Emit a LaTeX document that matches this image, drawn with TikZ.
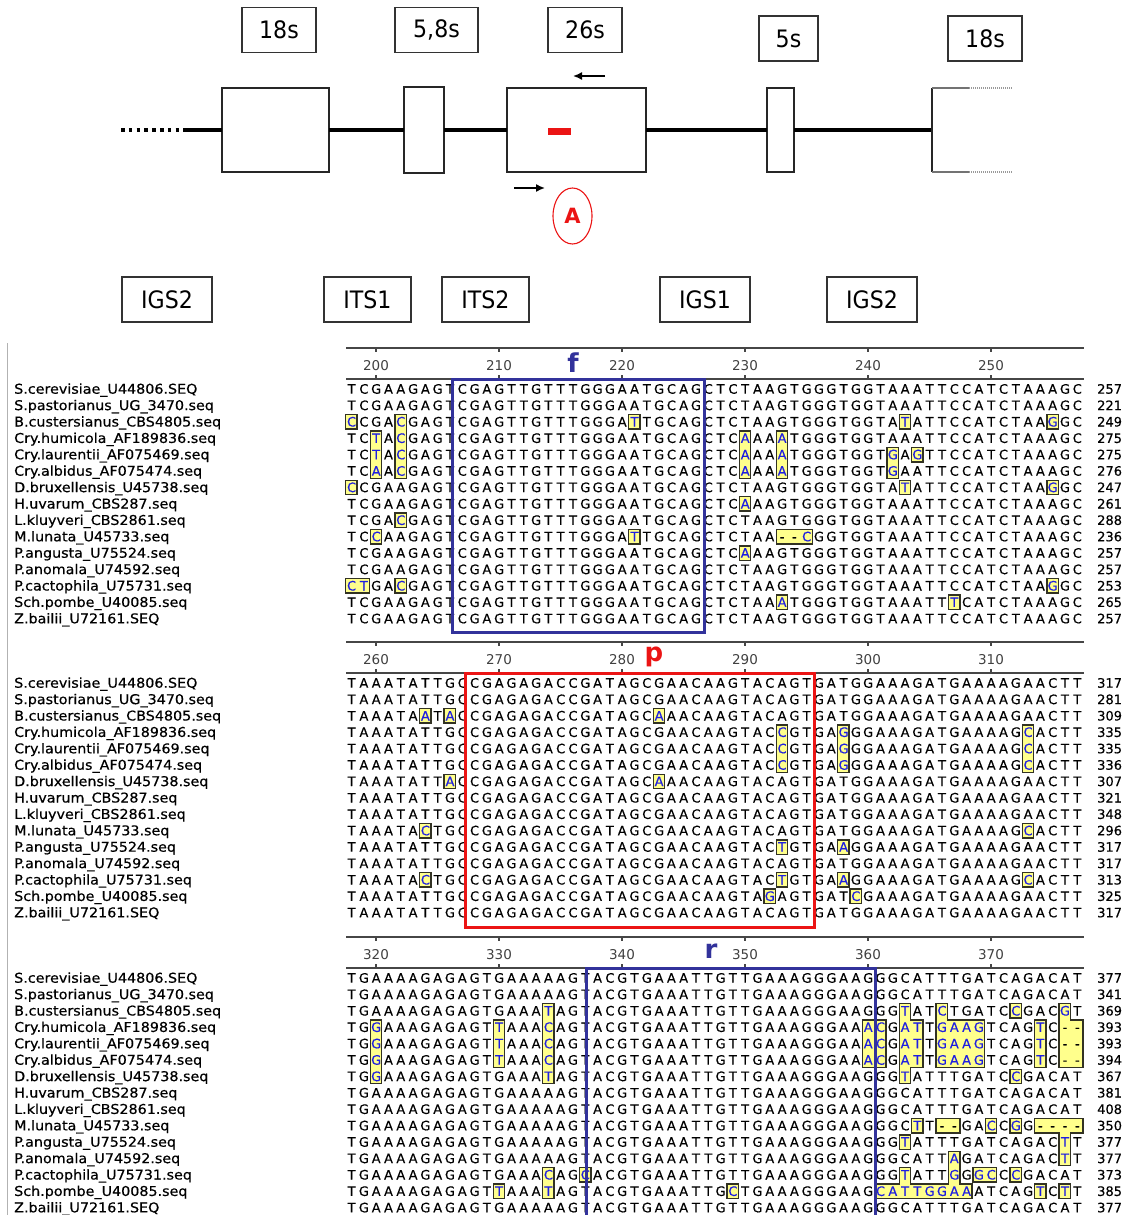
\documentclass[tikz,border=0pt]{standalone}
\usepackage{fontspec}
\setmainfont{DejaVu Sans}
\newfontfamily\namefont[FakeStretch=1.06,FakeBold=0.5]{DejaVu Sans}
\newfontfamily\seqfont[FakeBold=0.35]{DejaVu Sans}
\newfontfamily\tagfont[FakeStretch=0.92]{DejaVu Sans}
\usetikzlibrary{arrows.meta,positioning,shapes.geometric}
\definecolor{HlYellow}{RGB}{255,255,140}
\definecolor{HlEdge}{RGB}{50,50,35}
\definecolor{SeqBlue}{RGB}{30,30,225}
\definecolor{BoxBlue}{RGB}{50,50,155}
\definecolor{BoxRed}{RGB}{235,20,20}
\definecolor{RulerGray}{RGB}{70,70,70}
\tikzset{
  genebox/.style={draw=black!85,line width=1.5,fill=white,inner sep=0,outer sep=0},
  tagbox/.style={draw=black!80,line width=1.6,fill=white,inner sep=0,
    minimum height=45,font=\tagfont\fontsize{24}{24}\selectfont},
  backbone/.style={line width=4,draw=black},
  dotline/.style={line width=4,dash pattern=on 3.5pt off 4.3pt},
  stubline/.style={line width=1.4,draw=black!55},
  stubdot/.style={line width=1.4,draw=black!40,dash pattern=on 1pt off 1pt},
  primer/.style={-{Latex[length=9pt,width=8pt]},line width=1.6},
  hlcell/.style={draw=HlEdge,line width=1.4,fill=HlYellow},
  seqrow/.style={anchor=base west,inner sep=0,font=\seqfont\fontsize{13}{14}\selectfont},
  namelab/.style={anchor=base west,inner sep=0,font=\namefont\fontsize{13.5}{14}\selectfont},
  numlab/.style={anchor=base west,inner sep=0,font=\seqfont\fontsize{13}{14}\selectfont},
  rulerline/.style={draw=RulerGray,line width=1.4},
  rulerlab/.style={inner sep=0,text=black!75,font=\fontsize{13.5}{14}\selectfont},
  motif/.style={anchor=base,inner sep=0,font=\bfseries\fontsize{26}{26}\selectfont},
  motifbox/.style={line width=3},
}
\newdimen\colw \colw=12.3pt
\def\seqglyph#1{\ifnum`#1>96 \textcolor{SeqBlue}{\uppercase{#1}}\else#1\fi}
\def\seqscan#1{\ifx#1\relax\else\hbox to\colw{\hss\seqglyph{#1}\hss}\expandafter\seqscan\fi}
\def\seqtext#1{\expandafter\seqscan#1\relax}
\def\strains{S.cerevisiae\_U44806.SEQ,S.pastorianus\_UG\_3470.seq,B.custersianus\_CBS4805.seq,
  Cry.humicola\_AF189836.seq,Cry.laurentii\_AF075469.seq,Cry.albidus\_AF075474.seq,
  D.bruxellensis\_U45738.seq,H.uvarum\_CBS287.seq,L.kluyveri\_CBS2861.seq,M.lunata\_U45733.seq,
  P.angusta\_U75524.seq,P.anomala\_U74592.seq,P.cactophila\_U75731.seq,Sch.pombe\_U40085.seq,
  Z.bailii\_U72161.SEQ}
\newcommand\hlblock[3]{%
  \foreach \ca/\cb/\ra/\rb in {#3}
    \draw[hlcell] ({345.25+(\ca-#1)*12.3+0.45},{#2+(\ra-1)*16.4-7.2})
      rectangle ({345.25+(\cb-#1+1)*12.3-0.45},{#2+(\rb-1)*16.4+7.2});
  \foreach \ca/\cb/\ra/\rb in {#3}
    \fill[HlYellow] ({345.25+(\ca-#1)*12.3+1.3},{#2+(\ra-1)*16.4-6.35})
      rectangle ({345.25+(\cb-#1+1)*12.3-1.3},{#2+(\rb-1)*16.4+6.35});
}
\newcommand\ruler[2]{%
  \draw[rulerline] (346,#1-41) -- (1084,#1-41);
  \draw[rulerline] (346,#1-10) -- (1084,#1-10);
  \foreach \k in {0,...,5} {
    \pgfmathtruncatemacro\tv{#2+10*\k}
    \draw[rulerline] ({376+123*\k},#1-41) -- ++(0,4);
    \draw[rulerline] ({376+123*\k},#1-10) -- ++(0,-4);
    \node[rulerlab] (t\tv) at ({376+123*\k},#1-23) {\tv};
  }}
\newcommand\seqblock[3]{%
  \foreach \nm [count=\r from 0] in \strains
    \node[namelab] (n#2-\r) at (14,{#1+\r*16.4+4.7}) {\nm};
  \foreach \sq/\nb [count=\r from 0] in {#3} {
    \node[seqrow] (s#2-\r) at (345.25,{#1+\r*16.4+4.7}) {\seqtext\sq};
    \node[numlab] (c#2-\r) at (1097,{#1+\r*16.4+4.7}) {\nb};
  }}

\begin{document}
\begin{tikzpicture}[x=1pt,y=-1pt]
  \useasboundingbox (0,0) rectangle (1125,1215);

  % rDNA unit
  \node[tagbox,minimum width=74] (t18) at (279,30) {18s};
  \node[tagbox,minimum width=83] (t58) at (436.5,30) {5,8s};
  \node[tagbox,minimum width=74] (t26) at (585,30) {26s};
  \node[tagbox,minimum width=59] (t5) at (788.5,38.5) {5s};
  \node[tagbox,minimum width=74] (t18b) at (985,38.5) {18s};

  \node[genebox,minimum width=107,minimum height=84] (g18) at (275.5,130) {};
  \node[genebox,minimum width=40,minimum height=86,right=75pt of g18] (g58) {};
  \node[genebox,minimum width=139,minimum height=84,right=63pt of g58] (g26) {};
  \node[genebox,minimum width=27,minimum height=84,right=121pt of g26] (g5) {};
  \coordinate (lend) at (121,130);
  \coordinate (ldot) at (184,130);
  \coordinate (rt) at (932,88);
  \coordinate (rm) at (932,130);
  \coordinate (rb) at (932,172);
  \draw[dotline] (lend) -- (ldot);
  \draw[backbone] (ldot) -- (g18);
  \draw[backbone] (g18) -- (g58);
  \draw[backbone] (g58) -- (g26);
  \draw[backbone] (g26) -- (g5);
  \draw[backbone] (g5) -- (rm);
  \draw[line width=1.5,draw=black!85] (rt) -- (rb);
  \draw[stubline] (rt) -- ++(37,0) coordinate (rt1);
  \draw[stubdot] (rt1) -- ++(43,0);
  \draw[stubline] (rb) -- ++(37,0) coordinate (rb1);
  \draw[stubdot] (rb1) -- ++(43,0);

  \node[fill=BoxRed,minimum width=23,minimum height=7,inner sep=0] (probe) at (559.5,131.5) {};
  \coordinate (rv0) at (605,76);
  \coordinate (rv1) at (573,76);
  \coordinate (fw0) at (514,188);
  \coordinate (fw1) at (545,188);
  \draw[primer] (rv0) -- (rv1);
  \draw[primer] (fw0) -- (fw1);
  \node[ellipse,draw=BoxRed,line width=1.1,minimum width=39,minimum height=56,inner sep=0,
    text=BoxRed,font=\bfseries\fontsize{21}{21}\selectfont] (amp) at (572.5,216) {A};

  \node[tagbox,minimum width=90] (igs2a) at (167,299.5) {IGS2};
  \node[tagbox,minimum width=87] (its1) at (367.5,299.5) {ITS1};
  \node[tagbox,minimum width=87] (its2) at (485.5,299.5) {ITS2};
  \node[tagbox,minimum width=90] (igs1) at (705,299.5) {IGS1};
  \node[tagbox,minimum width=90] (igs2b) at (872,299.5) {IGS2};

  \draw[black!30,line width=1] (7,343) -- (7,1215);

  % alignment 198-257
  \hlblock{198}{389}{198/198/3/3,202/202/3/6,200/200/4/6,221/221/3/3,243/243/3/3,255/255/3/3,
    230/230/4/6,233/233/4/6,242/242/5/6,244/244/5/5,198/198/7/7,243/243/7/7,255/255/7/7,
    230/230/8/8,202/202/9/9,200/200/10/10,221/221/10/10,233/235/10/10,230/230/11/11,
    198/199/13/13,202/202/13/13,255/255/13/13,233/233/14/14,247/247/14/14}
  \ruler{389}{200}
  \seqblock{389}{a}{
    TCGAAGAGTCGAGTTGTTTGGGAATGCAGCTCTAAGTGGGTGGTAAATTCCATCTAAAGC/257,
    TCGAAGAGTCGAGTTGTTTGGGAATGCAGCTCTAAGTGGGTGGTAAATTCCATCTAAAGC/221,
    cCGAcGAGTCGAGTTGTTTGGGAtTGCAGCTCTAAGTGGGTGGTAtATTCCATCTAAgGC/249,
    TCtAcGAGTCGAGTTGTTTGGGAATGCAGCTCaAAaTGGGTGGTAAATTCCATCTAAAGC/275,
    TCtAcGAGTCGAGTTGTTTGGGAATGCAGCTCaAAaTGGGTGGTgAgTTCCATCTAAAGC/275,
    TCaAcGAGTCGAGTTGTTTGGGAATGCAGCTCaAAaTGGGTGGTgAATTCCATCTAAAGC/276,
    cCGAAGAGTCGAGTTGTTTGGGAATGCAGCTCTAAGTGGGTGGTAtATTCCATCTAAgGC/247,
    TCGAAGAGTCGAGTTGTTTGGGAATGCAGCTCaAAGTGGGTGGTAAATTCCATCTAAAGC/261,
    TCGAcGAGTCGAGTTGTTTGGGAATGCAGCTCTAAGTGGGTGGTAAATTCCATCTAAAGC/288,
    TCcAAGAGTCGAGTTGTTTGGGAtTGCAGCTCTAA--cGGTGGTAAATTCCATCTAAAGC/236,
    TCGAAGAGTCGAGTTGTTTGGGAATGCAGCTCaAAGTGGGTGGTAAATTCCATCTAAAGC/257,
    TCGAAGAGTCGAGTTGTTTGGGAATGCAGCTCTAAGTGGGTGGTAAATTCCATCTAAAGC/257,
    ctGAcGAGTCGAGTTGTTTGGGAATGCAGCTCTAAGTGGGTGGTAAATTCCATCTAAgGC/253,
    TCGAAGAGTCGAGTTGTTTGGGAATGCAGCTCTAAaTGGGTGGTAAATTtCATCTAAAGC/265,
    TCGAAGAGTCGAGTTGTTTGGGAATGCAGCTCTAAGTGGGTGGTAAATTCCATCTAAAGC/257}

  % alignment 258-317
  \hlblock{258}{683}{264/264/3/3,266/266/3/3,283/283/3/3,293/293/4/6,298/298/4/6,313/313/4/6,
    266/266/7/7,283/283/7/7,264/264/10/10,313/313/10/10,293/293/11/11,298/298/11/11,
    264/264/13/13,293/293/13/13,298/298/13/13,313/313/13/13,292/292/14/14,299/299/14/14}
  \ruler{683}{260}
  \seqblock{683}{b}{
    TAAATATTGCCGAGAGACCGATAGCGAACAAGTACAGTGATGGAAAGATGAAAAGAACTT/317,
    TAAATATTGCCGAGAGACCGATAGCGAACAAGTACAGTGATGGAAAGATGAAAAGAACTT/281,
    TAAATAaTaCCGAGAGACCGATAGCaAACAAGTACAGTGATGGAAAGATGAAAAGAACTT/309,
    TAAATATTGCCGAGAGACCGATAGCGAACAAGTACcGTGAgGGAAAGATGAAAAGcACTT/335,
    TAAATATTGCCGAGAGACCGATAGCGAACAAGTACcGTGAgGGAAAGATGAAAAGcACTT/335,
    TAAATATTGCCGAGAGACCGATAGCGAACAAGTACcGTGAgGGAAAGATGAAAAGcACTT/336,
    TAAATATTaCCGAGAGACCGATAGCaAACAAGTACAGTGATGGAAAGATGAAAAGAACTT/307,
    TAAATATTGCCGAGAGACCGATAGCGAACAAGTACAGTGATGGAAAGATGAAAAGAACTT/321,
    TAAATATTGCCGAGAGACCGATAGCGAACAAGTACAGTGATGGAAAGATGAAAAGAACTT/348,
    TAAATAcTGCCGAGAGACCGATAGCGAACAAGTACAGTGATGGAAAGATGAAAAGcACTT/296,
    TAAATATTGCCGAGAGACCGATAGCGAACAAGTACtGTGAaGGAAAGATGAAAAGAACTT/317,
    TAAATATTGCCGAGAGACCGATAGCGAACAAGTACAGTGATGGAAAGATGAAAAGAACTT/317,
    TAAATAcTGCCGAGAGACCGATAGCGAACAAGTACtGTGAaGGAAAGATGAAAAGcACTT/313,
    TAAATATTGCCGAGAGACCGATAGCGAACAAGTAgAGTGATcGAAAGATGAAAAGAACTT/325,
    TAAATATTGCCGAGAGACCGATAGCGAACAAGTACAGTGATGGAAAGATGAAAAGAACTT/317}

  % alignment 318-377
  \hlblock{318}{978}{334/334/3/7,320/320/4/7,330/330/4/6,334/334/13/14,337/337/13/13,
    330/330/14/14,349/349/14/14,363/363/3/7,363/364/4/6,366/366/3/6,366/369/4/6,
    372/372/3/3,376/376/3/6,376/377/4/6,360/361/4/6,374/374/4/6,372/372/7/7,
    364/364/10/10,366/367/10/10,370/370/10/10,372/372/10/10,374/377/10/10,376/376/10/12,
    363/363/11/11,367/367/12/14,363/363/13/14,361/368/14/14,369/370/13/13,372/372/13/13,
    374/374/14/14,376/376/14/14}
  \ruler{978}{320}
  \seqblock{978}{c}{
    TGAAAAGAGAGTGAAAAAGTACGTGAAATTGTTGAAAGGGAAGGGCATTTGATCAGACAT/377,
    TGAAAAGAGAGTGAAAAAGTACGTGAAATTGTTGAAAGGGAAGGGCATTTGATCAGACAT/341,
    TGAAAAGAGAGTGAAAtAGTACGTGAAATTGTTGAAAGGGAAGGGtATcTGATCcGACgT/369,
    TGgAAAGAGAGTtAAAcAGTACGTGAAATTGTTGAAAGGGAAacGatTgaagTCAGtC--/393,
    TGgAAAGAGAGTtAAAcAGTACGTGAAATTGTTGAAAGGGAAacGatTgaagTCAGtC--/393,
    TGgAAAGAGAGTtAAAcAGTACGTGAAATTGTTGAAAGGGAAacGatTgaagTCAGtC--/394,
    TGgAAAGAGAGTGAAAtAGTACGTGAAATTGTTGAAAGGGAAGGGtATTTGATCcGACAT/367,
    TGAAAAGAGAGTGAAAAAGTACGTGAAATTGTTGAAAGGGAAGGGCATTTGATCAGACAT/381,
    TGAAAAGAGAGTGAAAAAGTACGTGAAATTGTTGAAAGGGAAGGGCATTTGATCAGACAT/408,
    TGAAAAGAGAGTGAAAAAGTACGTGAAATTGTTGAAAGGGAAGGGCtT--GAcCgG----/350,
    TGAAAAGAGAGTGAAAAAGTACGTGAAATTGTTGAAAGGGAAGGGtATTTGATCAGACtT/377,
    TGAAAAGAGAGTGAAAAAGTACGTGAAATTGTTGAAAGGGAAGGGCATTaGATCAGACtT/377,
    TGAAAAGAGAGTGAAAcAGcACGTGAAATTGTTGAAAGGGAAGGGtATTgGgcCcGACAT/373,
    TGAAAAGAGAGTtAAAtAGTACGTGAAATTGcTGAAAGGGAAGcattggaaATCAGtCtT/385,
    TGAAAAGAGAGTGAAAAAGTACGTGAAATTGTTGAAAGGGAAGGGCATTTGATCAGACAT/377}

  % conserved regions
  \draw[motifbox,draw=BoxBlue] (452,379) rectangle (704,632);
  \draw[motifbox,draw=BoxRed] (465,673) rectangle (814,927);
  \draw[motifbox,draw=BoxBlue] (586,1225) -- (586,968) -- (875,968) -- (875,1225);
  \node[motif,text=BoxBlue] (lf) at (573,372) {f};
  \node[motif,text=BoxRed] (lp) at (654,661) {p};
  \node[motif,text=BoxBlue] (lr) at (711,958) {r};
\end{tikzpicture}
\end{document}
